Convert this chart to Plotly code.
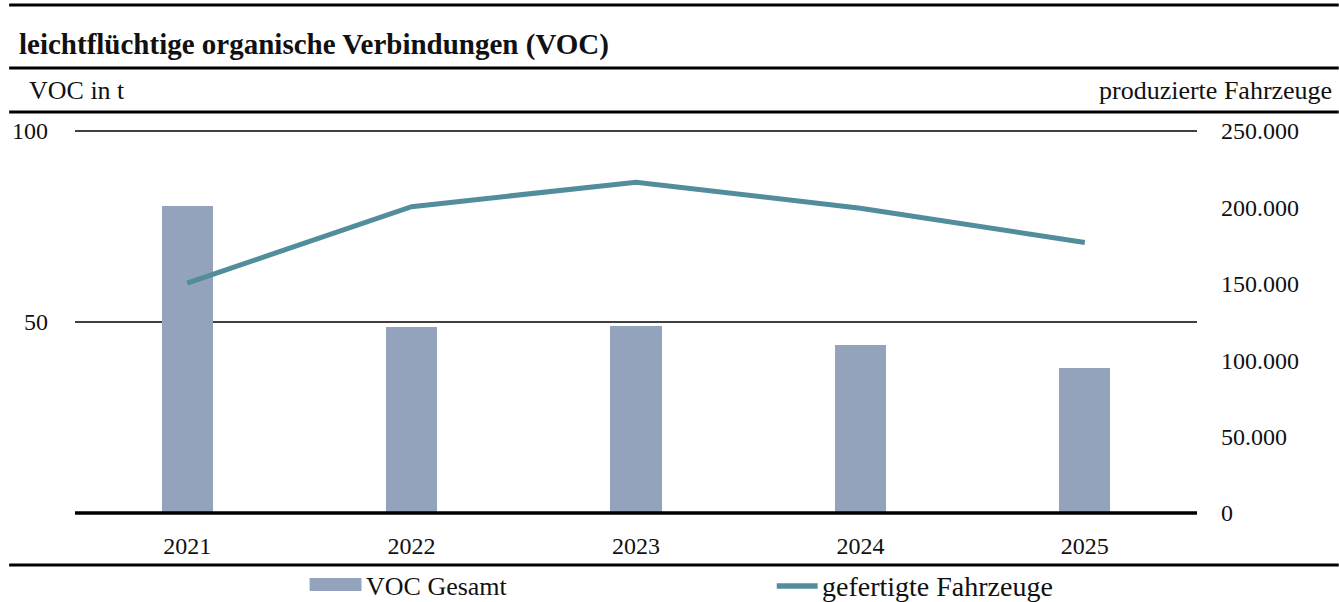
import plotly.graph_objects as go

years = ["2021", "2022", "2023", "2024", "2025"]
voc_t = [80.3, 48.7, 49.0, 44.0, 38.0]
vehicles = [150500, 200500, 216500, 199500, 177000]

left_ticks = [50, 100]
left_ticktext = ["50", "100"]
right_ticks = [0, 50000, 100000, 150000, 200000, 250000]
right_ticktext = ["0", "50.000", "100.000", "150.000", "200.000", "250.000"]

BAR_COLOR = "#93A3BC"
LINE_COLOR = "#528D9C"
FONT = "Liberation Serif"
W, H = 1339, 602
L, R, T, B = 73, 142, 131, 89

fig = go.Figure()
fig.add_trace(go.Bar(x=years, y=voc_t, name="VOC Gesamt", marker_color=BAR_COLOR,
                     marker_line_width=0, width=0.228, yaxis="y", showlegend=False))
fig.add_trace(go.Scatter(x=years, y=vehicles, name="gefertigte Fahrzeuge", mode="lines",
                         line=dict(color=LINE_COLOR, width=5), yaxis="y2", showlegend=False))

fig.update_layout(
    width=W, height=H,
    margin=dict(l=L, r=R, t=T, b=B, pad=0),
    paper_bgcolor="white", plot_bgcolor="white",
    font=dict(family=FONT, size=24, color="#111"),
    bargap=0,
    xaxis=dict(type="category", showgrid=False, zeroline=False, showline=False,
               ticks="", ticklabelstandoff=16, tickfont=dict(size=24)),
    yaxis=dict(range=[0, 100], tickvals=left_ticks, ticktext=left_ticktext,
               showgrid=False, zeroline=False,
               showline=False, ticks="", ticklabelstandoff=26, tickfont=dict(size=24)),
    yaxis2=dict(range=[0, 250000], overlaying="y", side="right", tickvals=right_ticks,
                ticktext=right_ticktext, showgrid=False, zeroline=False, showline=False,
                ticks="", ticklabelstandoff=23, tickfont=dict(size=24)),
)


def px_x(x):
    return (x - L) / (W - L - R)


def px_y(y):
    return 1 - (y - T) / (H - T - B)


shapes = []
# gridlines at 50 and 100 (left axis values mapped onto the paper)
for gv in left_ticks:
    yp = gv / 100
    shapes.append(dict(type="line", xref="paper", yref="paper", x0=0, x1=1, y0=yp, y1=yp,
                       layer="below", line=dict(color="black", width=1.6)))
# thick zero axis line
shapes.append(dict(type="line", xref="paper", yref="paper", x0=0, x1=1, y0=0, y1=0,
                   layer="above", line=dict(color="black", width=3.4)))

# horizontal rules
for ypx in [5, 68, 112, 565]:
    shapes.append(dict(type="line", xref="paper", yref="paper",
                       x0=px_x(7), x1=px_x(W), y0=px_y(ypx), y1=px_y(ypx),
                       line=dict(color="black", width=3.2)))

# legend swatches
shapes.append(dict(type="rect", xref="paper", yref="paper",
                   x0=px_x(308), x1=px_x(360), y0=px_y(591), y1=px_y(578),
                   fillcolor=BAR_COLOR, line=dict(width=0)))
shapes.append(dict(type="line", xref="paper", yref="paper",
                   x0=px_x(776), x1=px_x(817), y0=px_y(586), y1=px_y(586),
                   line=dict(color=LINE_COLOR, width=5.5)))
fig.update_layout(shapes=shapes)

annotations = [
    dict(text="<b>leichtflüchtige organische Verbindungen (VOC)</b>", x=px_x(15), y=px_y(45),
         xanchor="left", yanchor="middle", font=dict(size=29, family=FONT)),
    dict(text="VOC in t", x=px_x(25), y=px_y(90), xanchor="left", yanchor="middle",
         font=dict(size=26, family=FONT)),
    dict(text="produzierte Fahrzeuge", x=px_x(1334), y=px_y(90), xanchor="right",
         yanchor="middle", font=dict(size=26, family=FONT)),
    dict(text="VOC Gesamt", x=px_x(363), y=px_y(586), xanchor="left", yanchor="middle",
         font=dict(size=26, family=FONT)),
    dict(text="gefertigte Fahrzeuge", x=px_x(819), y=px_y(586), xanchor="left",
         yanchor="middle", font=dict(size=28, family=FONT)),
]
for a in annotations:
    a.update(xref="paper", yref="paper", showarrow=False)
fig.update_layout(annotations=annotations)

fig.write_html("out.html", config={"displayModeBar": False},
               post_script="document.body.style.margin='0';document.body.style.padding='0';document.body.style.overflow='hidden';")
